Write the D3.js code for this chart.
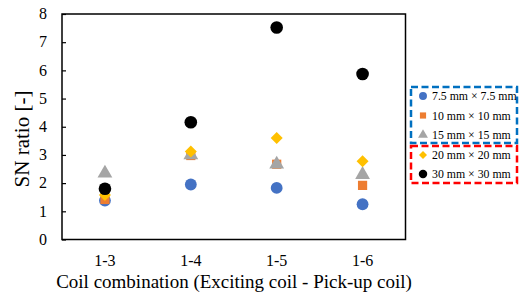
<!DOCTYPE html>
<html>
<head>
<meta charset="utf-8">
<script src="https://cdn.jsdelivr.net/npm/d3@7"></script>
<style>
  body { margin: 0; background: #fff; }
  svg text { font-family: "Liberation Serif", "Times New Roman", serif; fill: #000; }
</style>
</head>
<body>
<svg id="chart" width="519" height="296"></svg>
<script>
// categories and values
var combos = ['1-3', '1-4', '1-5', '1-6'];
var seriesNames = ['7.5 mm \u00d7 7.5 mm', '10 mm \u00d7 10 mm', '15 mm \u00d7 15 mm', '20 mm \u00d7 20 mm', '30 mm \u00d7 30 mm'];
var s75 = [1.38, 1.95, 1.83, 1.25];
var s10 = [1.42, 2.98, 2.67, 1.92];
var s15 = [2.35, 3.0, 2.67, 2.3];
var s20 = [1.58, 3.12, 3.6, 2.78];
var s30 = [1.8, 4.16, 7.52, 5.87];
var yTicks = [0, 1, 2, 3, 4, 5, 6, 7, 8];

var seriesValues = [s75, s10, s15, s20, s30];
var colors = ['#4472c4', '#ed7d31', '#a5a5a5', '#ffc000', '#000000'];
// diamond = square turned 45 degrees
var shapes = [d3.symbolCircle, d3.symbolSquare, d3.symbolTriangle, d3.symbolSquare, d3.symbolCircle];
var turns = [0, 0, 0, 45, 0];
var sizes = [110, 85, 95, 72, 125];

var svg = d3.select('#chart');
var plot = {left: 62, top: 14, right: 405.5, bottom: 239.5};

var x = d3.scalePoint().domain(combos).range([plot.left, plot.right]).padding(0.5);
var y = d3.scaleLinear().domain([0, 8]).range([plot.bottom, plot.top]);

// frame
svg.append('rect')
    .attr('x', plot.left).attr('y', plot.top)
    .attr('width', plot.right - plot.left).attr('height', plot.bottom - plot.top)
    .attr('fill', 'none').attr('stroke', '#000').attr('stroke-width', 1.5);

// y axis, ticks pointing inward
var yAxis = svg.append('g')
    .attr('transform', 'translate(' + plot.left + ',0)')
    .call(d3.axisRight(y).tickValues(yTicks).tickSize(4).tickFormat(''));
yAxis.select('.domain').remove();
yAxis.selectAll('line').attr('stroke', '#000').attr('stroke-width', 1.2);

svg.selectAll('.ylab')
    .data(yTicks)
    .enter()
    .append('text')
    .attr('class', 'ylab')
    .attr('x', 47)
    .attr('y', function(d) { return y(d); })
    .attr('dy', '0.33em')
    .attr('text-anchor', 'end')
    .attr('font-size', 16)
    .text(String);

svg.selectAll('.xlab')
    .data(combos)
    .enter()
    .append('text')
    .attr('class', 'xlab')
    .attr('x', function(d) { return x(d); })
    .attr('y', 266)
    .attr('text-anchor', 'middle')
    .attr('font-size', 16)
    .text(String);

svg.append('text')
    .attr('x', 234)
    .attr('y', 288)
    .attr('text-anchor', 'middle')
    .attr('font-size', 19)
    .text('Coil combination (Exciting coil - Pick-up coil)');

svg.append('text')
    .attr('transform', 'translate(29,139) rotate(-90)')
    .attr('text-anchor', 'middle')
    .attr('font-size', 21)
    .text('SN ratio [-]');

// points
seriesValues.forEach(function(vals, i) {
    svg.append('g')
        .selectAll('path')
        .data(vals)
        .enter()
        .append('path')
        .attr('d', d3.symbol().type(shapes[i]).size(sizes[i]))
        .attr('transform', function(v, j) {
            return 'translate(' + x(combos[j]) + ',' + y(v) + ') rotate(' + turns[i] + ')';
        })
        .attr('fill', colors[i]);
});

// legend boxes
svg.append('rect')
    .attr('x', 411).attr('y', 87).attr('width', 106).attr('height', 56)
    .attr('fill', 'none').attr('stroke', '#0070c0').attr('stroke-width', 2.5)
    .attr('stroke-dasharray', '7,3.5');
svg.append('rect')
    .attr('x', 411).attr('y', 146).attr('width', 106).attr('height', 37)
    .attr('fill', 'none').attr('stroke', '#ff0000').attr('stroke-width', 2.5)
    .attr('stroke-dasharray', '7,3.5');

var legendY = [96, 115.5, 135, 155, 174];
var leg = svg.selectAll('.leg')
    .data(seriesNames)
    .enter()
    .append('g')
    .attr('class', 'leg')
    .attr('transform', function(d, i) { return 'translate(423,' + legendY[i] + ')'; });

leg.append('path')
    .attr('d', function(d, i) { return d3.symbol().type(shapes[i]).size(sizes[i] * 0.45)(); })
    .attr('transform', function(d, i) { return 'rotate(' + turns[i] + ')'; })
    .attr('fill', function(d, i) { return colors[i]; });

leg.append('text')
    .attr('x', 9)
    .attr('dy', '0.35em')
    .attr('font-size', 11.8)
    .text(String);
</script>
</body>
</html>
